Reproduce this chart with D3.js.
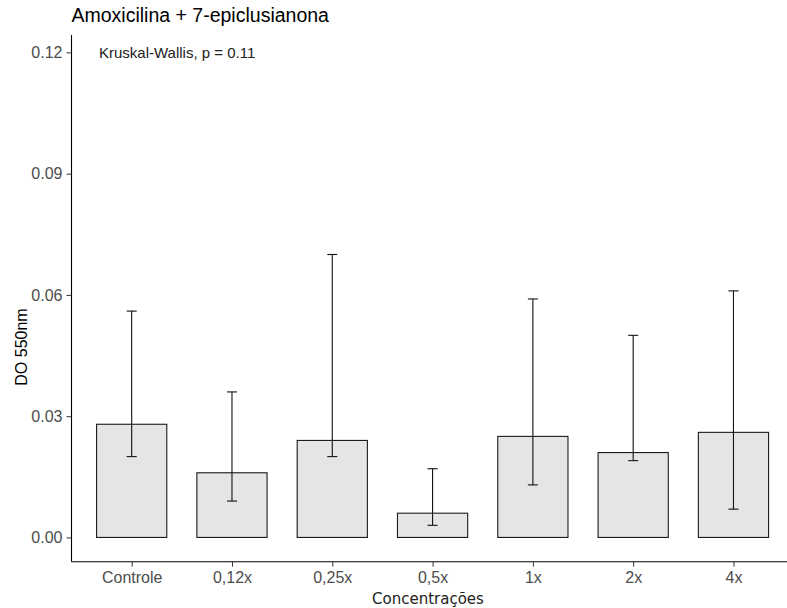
<!DOCTYPE html>
<html>
<head>
<meta charset="utf-8">
<script src="https://cdn.jsdelivr.net/npm/d3@7"></script>
<style>
body { margin: 0; background: #fff; }
svg text { font-family: "Liberation Sans", Arial, sans-serif; }
</style>
</head>
<body>
<div id="graph"></div>
<script>
// data
var categories = ["Controle", "0,12x", "0,25x", "0,5x", "1x", "2x", "4x"];
var means = [0.028, 0.016, 0.024, 0.006, 0.025, 0.021, 0.026];
var lower = [0.020, 0.009, 0.020, 0.003, 0.013, 0.019, 0.007];
var upper = [0.056, 0.036, 0.070, 0.017, 0.059, 0.050, 0.061];
var yTicks = [0, 0.03, 0.06, 0.09, 0.12];

var W = 787, H = 608;
var padL = 71.5, padT = 35, padB = 561.7;

var svg = d3.select("#graph").append("svg")
  .attr("width", W).attr("height", H);

// discrete scale with ggplot's 0.6 expansion each side
var x = d3.scaleLinear().domain([0.4, 7.6]).range([padL, padL + 7.2 * 100.3]);
var y = d3.scaleLinear().domain([-0.006, 0.1243]).range([padB, padT]);

var rows = categories.map(function(c, i) {
  return {cat: c, i: i + 1, m: means[i], lo: lower[i], hi: upper[i]};
});

svg.selectAll("rect.bar")
  .data(rows)
  .enter()
  .append("rect")
  .attr("class", "bar")
  .attr("x", function(d) { return x(d.i - 0.35); })
  .attr("width", function(d) { return x(d.i + 0.35) - x(d.i - 0.35); })
  .attr("y", function(d) { return y(d.m); })
  .attr("height", function(d) { return y(0) - y(d.m); })
  .attr("fill", "#e5e5e5")
  .attr("stroke", "#1a1a1a")
  .attr("stroke-width", 1.1);

var eb = svg.selectAll("g.err").data(rows).enter().append("g").attr("class", "err")
  .attr("stroke", "#111").attr("stroke-width", 1.1);
eb.append("line")
  .attr("x1", function(d) { return x(d.i); })
  .attr("x2", function(d) { return x(d.i); })
  .attr("y1", function(d) { return y(d.lo); })
  .attr("y2", function(d) { return y(d.hi); });
eb.append("line")
  .attr("x1", function(d) { return x(d.i - 0.05); })
  .attr("x2", function(d) { return x(d.i + 0.05); })
  .attr("y1", function(d) { return y(d.lo); })
  .attr("y2", function(d) { return y(d.lo); });
eb.append("line")
  .attr("x1", function(d) { return x(d.i - 0.05); })
  .attr("x2", function(d) { return x(d.i + 0.05); })
  .attr("y1", function(d) { return y(d.hi); })
  .attr("y2", function(d) { return y(d.hi); });

// axes
var yAxis = d3.axisLeft(y).tickValues(yTicks).tickFormat(d3.format(".2f")).tickSize(5).tickPadding(4);
var gy = svg.append("g").attr("transform", "translate(" + padL + ",0)").call(yAxis);
gy.select(".domain").attr("d", "M0," + padT + "V" + padB).attr("stroke", "#000").attr("stroke-width", 1.1);
gy.selectAll(".tick line").attr("stroke", "#333");
gy.selectAll(".tick text").attr("fill", "#4d4d4d").style("font-size", "16px");

var xAxis = d3.axisBottom(x).tickValues(d3.range(1, 8)).tickFormat(function(d) { return categories[d - 1]; }).tickSize(5).tickPadding(5);
var gx = svg.append("g").attr("transform", "translate(0," + padB + ")").call(xAxis);
gx.select(".domain").attr("d", "M" + padL + ",0H" + W).attr("stroke", "#000").attr("stroke-width", 1.1);
gx.selectAll(".tick line").attr("stroke", "#333");
gx.selectAll(".tick text").attr("fill", "#4d4d4d").style("font-size", "16px");

// labels
svg.append("text").attr("x", padL).attr("y", 22)
  .style("font-size", "19.5px").attr("fill", "#000")
  .text("Amoxicilina + 7-epiclusianona");

svg.append("text").attr("x", 99).attr("y", 57.5)
  .style("font-size", "15px").attr("fill", "#222")
  .text("Kruskal-Wallis, p = 0.11");

svg.append("text")
  .attr("transform", "translate(27,347) rotate(-90)")
  .attr("text-anchor", "middle")
  .style("font-size", "16px").attr("fill", "#000")
  .text("DO 550nm");

svg.append("text").attr("x", 428).attr("y", 604)
  .attr("text-anchor", "middle")
  .style("font-family", "'DejaVu Sans', sans-serif")
  .style("font-size", "15px").attr("fill", "#222")
  .text("Concentrações");
</script>
</body>
</html>
